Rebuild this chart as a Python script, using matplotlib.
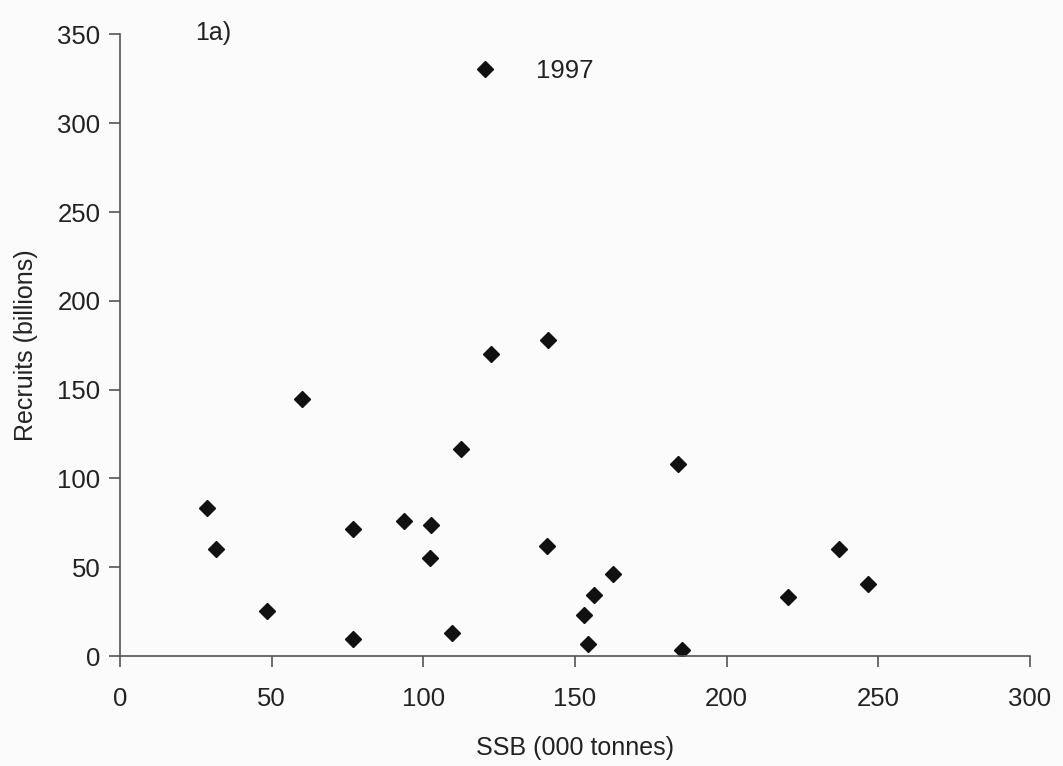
import matplotlib
matplotlib.use("Agg")
import matplotlib.pyplot as plt

# Spawning stock biomass vs recruits
ssb = [28.8, 31.7, 48.6, 60.0, 76.9, 76.8, 93.6, 102.6, 102.1, 109.3, 112.4,
       122.2, 141.2, 140.7, 153.0, 154.3, 156.2, 162.4, 183.9, 185.4, 220.1,
       236.9, 246.7]
recruits = [83.3, 60.4, 25.3, 144.7, 71.3, 9.8, 76.1, 74.0, 55.4, 13.1, 116.4,
            170.1, 178.1, 61.7, 23.3, 6.6, 34.4, 46.0, 108.2, 3.2, 33.4,
            60.4, 40.7]
series_name = "1997"

plt.rcParams['font.family'] = ['Liberation Sans', 'DejaVu Sans']

fig = plt.figure(figsize=(10.63, 7.66), dpi=100, facecolor="#fbfbfb")
ax = fig.add_axes([0.1129, 0.1436, 0.8561, 0.8114])
ax.set_facecolor("#fbfbfb")

ax.plot(ssb, recruits, ls="none", marker="D", ms=8, color="#111111",
        label=series_name)

ax.set_xlim(0, 300)
ax.set_ylim(0, 350)
ax.set_xticks(range(0, 301, 50))
ax.set_yticks(range(0, 351, 50))

for side in ["top", "right"]:
    ax.spines[side].set_visible(False)
for side in ["left", "bottom"]:
    ax.spines[side].set_color("#555555")
    ax.spines[side].set_linewidth(1.2)

ax.tick_params(direction="out", length=8, width=1.2, color="#555555",
               labelsize=18.5, labelcolor="#222222")
ax.tick_params(axis="x", pad=14)
ax.tick_params(axis="y", pad=6)

ax.set_xlabel("SSB (000 tonnes)", fontsize=18, color="#222222", labelpad=18)
ax.set_ylabel("Recruits (billions)", fontsize=18, color="#222222", labelpad=14)

ax.text(0.082, 1.003, "1a)", transform=ax.transAxes, fontsize=18,
        color="#222222", va="center")

ax.legend(loc="center left", bbox_to_anchor=(0.361, 0.941), frameon=False,
          fontsize=18.5, handletextpad=1.5, handlelength=1.0, numpoints=1,
          labelcolor="#222222")

fig.savefig("out.png", dpi=100, facecolor=fig.get_facecolor())
